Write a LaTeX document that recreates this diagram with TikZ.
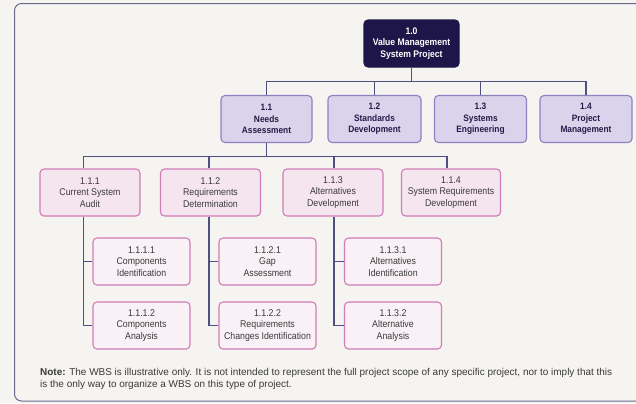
\documentclass[tikz,border=0pt]{standalone}
\usepackage{fontspec}
\setmainfont{Liberation Sans}[FakeStretch=0.9]
\newfontfamily\notefont{Liberation Sans}
\definecolor{paper}{HTML}{F6F4F0}
\definecolor{framec}{HTML}{6A6A8E}
\definecolor{topfill}{HTML}{1E1548}
\definecolor{lonefill}{HTML}{D9D3EB}
\definecolor{loneline}{HTML}{8E80C2}
\definecolor{lonetext}{HTML}{241C48}
\definecolor{ltwofill}{HTML}{F5E5EF}
\definecolor{lthreefill}{HTML}{FAF1F6}
\definecolor{pinkline}{HTML}{D27CB8}
\definecolor{bodytext}{HTML}{3A3A3A}
\definecolor{linkc}{HTML}{4E5080}
\tikzset{
  wbsbox/.style={rounded corners=4bp, align=center, inner sep=0pt,
    minimum height=47bp, line width=1.1bp},
  topbox/.style={wbsbox, fill=topfill, draw=topfill, text=white,
    minimum width=95bp, font=\bfseries\fontsize{9.6}{11.5}\selectfont},
  lonebox/.style={wbsbox, fill=lonefill, draw=loneline, text=lonetext,
    minimum width=92bp, font=\bfseries\fontsize{9.3}{11.5}\selectfont},
  ltwobox/.style={wbsbox, fill=ltwofill, draw=pinkline, text=bodytext,
    minimum width=100bp, font=\fontsize{9.8}{11.5}\selectfont},
  lthreebox/.style={wbsbox, fill=lthreefill, draw=pinkline, text=bodytext,
    minimum width=97bp, font=\fontsize{9.8}{11.5}\selectfont},
  link/.style={draw=linkc, line width=1.2bp}
}
\begin{document}
\begin{tikzpicture}[x=1bp,y=-1bp]
\useasboundingbox (0,0) rectangle (636,403);
\clip (0,0) rectangle (636,403);
\fill[paper] (0,0) rectangle (636,403);
% outer panel
\draw[framec, line width=1bp, rounded corners=7bp] (14.5,3.5) rectangle (720,401);

% top level
\node[topbox] (w10) at (411.5,43.5) {1.0\\Value Management\\System Project};

% first level
\node[lonebox, minimum width=91bp] (w11) at (266.5,119) {1.1\\Needs\\Assessment};
\node[lonebox, minimum width=93bp] (w12) at (374.5,119) {1.2\\Standards\\Development};
\node[lonebox] (w13) at (480.5,119) {1.3\\Systems\\Engineering};
\node[lonebox] (w14) at (586,119) {1.4\\Project\\Management};

% second level
\node[ltwobox] (w111) at (90,192.5) {1.1.1\\Current System\\Audit};
\node[ltwobox] (w112) at (210.5,192.5) {1.1.2\\Requirements\\Determination};
\node[ltwobox] (w113) at (333,192.5) {1.1.3\\Alternatives\\Development};
\node[ltwobox, minimum width=99bp] (w114) at (451,192.5) {1.1.4\\System Requirements\\Development};

% third level
\node[lthreebox] (w1111) at (141.5,261.5) {1.1.1.1\\Components\\Identification};
\node[lthreebox] (w1112) at (141.5,325.5) {1.1.1.2\\Components\\Analysis};
\node[lthreebox] (w1121) at (267.5,261.5) {1.1.2.1\\Gap\\Assessment};
\node[lthreebox] (w1122) at (267.5,325.5) {1.1.2.2\\Requirements\\Changes Identification};
\node[lthreebox] (w1131) at (393,261.5) {1.1.3.1\\Alternatives\\Identification};
\node[lthreebox] (w1132) at (393,325.5) {1.1.3.2\\Alternative\\Analysis};

% branch points and spines
\coordinate (hub0) at (411.5,81.5);
\coordinate (hub1) at (266.5,156.5);
\coordinate (sp1) at (83.5,0);
\coordinate (sp2) at (209,0);
\coordinate (sp3) at (334,0);
\coordinate (sp4) at (447,0);

% connectors
\draw[link] (w10) -- (hub0);
\foreach \c in {w11,w12,w13,w14} \draw[link] (hub0) -| (\c.north);
\draw[link] (w11) -- (hub1);
\draw[link] (hub1) -| (w111.north -| sp1);
\draw[link] (hub1) -| (w112.north -| sp2);
\draw[link] (hub1) -| (w113.north -| sp3);
\draw[link] (hub1) -| (w114.north -| sp4);
\draw[link] (w111.south -| sp1) |- (w1111.west);
\draw[link] (w111.south -| sp1) |- (w1112.west);
\draw[link] (w112.south -| sp2) |- (w1121.west);
\draw[link] (w112.south -| sp2) |- (w1122.west);
\draw[link] (w113.south -| sp3) |- (w1131.west);
\draw[link] (w113.south -| sp3) |- (w1132.west);

% footnote
\node[anchor=north west, inner sep=0pt, align=left, text=bodytext,
  font=\notefont\fontsize{10}{11.5}\selectfont] (note) at (40,368.3)
  {\textbf{Note:} The WBS is illustrative only. It is not intended to represent the full project scope of any specific project, nor to imply that this\\
   is the only way to organize a WBS on this type of project.};
\end{tikzpicture}
\end{document}
